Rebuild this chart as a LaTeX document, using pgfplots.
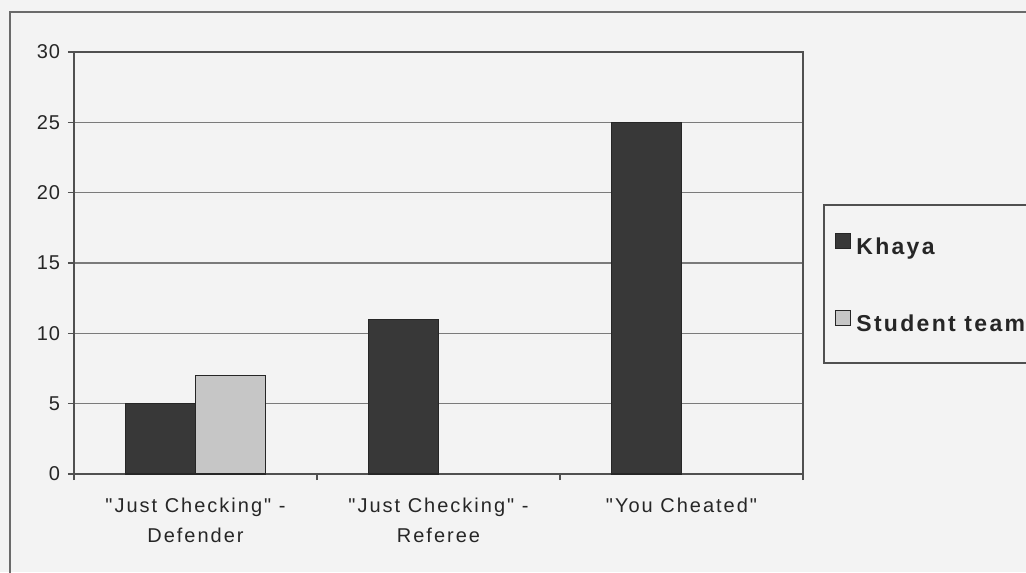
\documentclass[border=0pt]{standalone}
\usepackage{fontspec}
\setmainfont{Liberation Sans}
\newfontfamily\spacedfont[LetterSpace=10]{Liberation Sans}
\newfontfamily\tickfont[LetterSpace=4]{Liberation Sans}
\usepackage{pgfplots}
\pgfplotsset{compat=1.18}

\definecolor{bg}{HTML}{F3F3F3}
\definecolor{frame}{HTML}{6A6A6A}
\definecolor{axisline}{HTML}{505050}
\definecolor{gridc}{HTML}{7A7A7A}
\definecolor{khaya}{HTML}{383838}
\definecolor{student}{HTML}{C6C6C6}

\begin{document}
\begin{tikzpicture}[x=0.75pt,y=0.75pt]
\useasboundingbox (0,0) rectangle (1026,572);
\fill[bg] (0,0) rectangle (1026,572);
% outer chart frame (left and top edges)
\draw[frame, line width=2pt] (10,-5) -- (10,560) -- (1035,560);

\begin{axis}[
  at={(55.5pt,73.5pt)}, anchor=south west,
  scale only axis,
  width=546.75pt, height=316.5pt,
  axis background/.style={fill=bg},
  axis line style={axisline, line width=1.1pt},
  xmin=-0.5, xmax=2.5,
  ymin=0, ymax=30,
  ytick={0,5,...,30},
  xtick={0,1,2},
  xticklabels={{"Just Checking" -\\Defender},{"Just Checking" -\\Referee},{"You Cheated"}},
  minor xtick={-0.5,0.5,1.5,2.5},
  major x tick style={draw=none},
  xtick pos=bottom, ytick pos=left,
  tick style={axisline, line width=0.9pt},
  tick align=outside,
  major tick length=4.5pt,
  minor tick length=4.5pt,
  ymajorgrids,
  grid style={gridc, line width=0.8pt},
  /pgf/number format/assume math mode=true,
  yticklabel style={font=\tickfont\fontsize{15}{18}\selectfont, text=black!85, xshift=-2.5pt},
  xticklabel style={font=\spacedfont\fontsize{15}{22.5}\selectfont, align=center, text=black!85, yshift=-10pt},
  ybar=0pt,
  bar width=0.288,
  legend cell align=left,
  legend style={at={(1.044,0.571)}, anchor=north west, draw=none, fill=none,
    inner sep=0pt, row sep=38pt,
    font=\spacedfont\bfseries\fontsize{17.25}{20}\selectfont,
    text=black!85,
    nodes={inner xsep=4pt}},
  legend image code/.code={\draw[#1] (0pt,-1pt) rectangle (11pt,10pt);},
]
\addplot[fill=khaya, draw=black!85, line width=0.8pt] coordinates {(0,5) (1,11) (2,25)};
\addlegendentry{Khaya}
\addplot[fill=student, draw=black!85, line width=0.8pt] coordinates {(0,7)};
\addlegendentry{Student team}
\end{axis}

% legend frame, running off the right edge
\draw[axisline, line width=1.2pt] (1035,367) -- (824,367) -- (824,209) -- (1035,209);
\end{tikzpicture}
\end{document}
